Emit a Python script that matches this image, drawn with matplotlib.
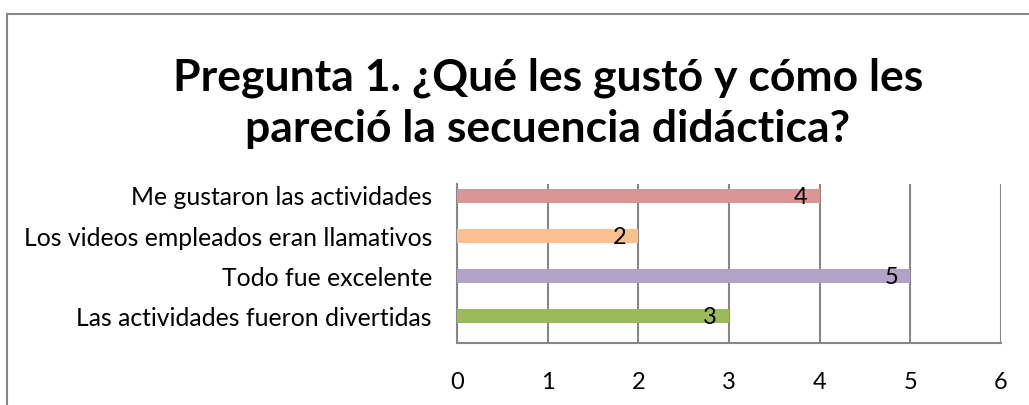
import matplotlib
matplotlib.use("Agg")
import matplotlib.pyplot as plt
from matplotlib.patches import Rectangle

# Survey responses
categories = [
    "Me gustaron las actividades",
    "Los videos empleados eran llamativos",
    "Todo fue excelente",
    "Las actividades fueron divertidas",
]
counts = [4, 2, 5, 3]
bar_colors = ["#D99694", "#FAC090", "#B3A2C7", "#9BBB59"]
x_ticks = [0, 1, 2, 3, 4, 5, 6]
title = "Pregunta 1. ¿Qué les gustó y cómo les\npareció la secuencia didáctica?"

plt.rcParams["font.family"] = ["Lato", "DejaVu Sans"]

W, H, DPI = 1029, 405, 100
fig = plt.figure(figsize=(W / DPI, H / DPI), dpi=DPI)
fig.patch.set_facecolor("white")

# Chart border (right and bottom edges run off the canvas)
fig.patches.append(Rectangle((7 / W, -0.1), 1.2, (H - 14) / H + 0.1,
                             transform=fig.transFigure, fill=False,
                             edgecolor="#878787", linewidth=1.5))

ax = fig.add_axes([457 / W, 62 / H, 544 / W, 159 / H])
ypos = list(range(len(categories)))[::-1]
ax.barh(ypos, counts, height=0.345, color=bar_colors, zorder=3)

for y, v in zip(ypos, counts):
    ax.text(v - 0.21, y - 0.05, str(v), ha="center", va="center",
            fontsize=17, color="black", zorder=4)

ax.set_xlim(0, 6)
ax.set_ylim(-0.675, 3.3)
ax.set_xticks(x_ticks)
ax.set_xticklabels([str(t) for t in x_ticks])
ax.set_yticks(ypos)
ax.set_yticklabels(categories)
ax.tick_params(axis="both", length=0, colors="black")
ax.tick_params(axis="x", pad=21, labelsize=17)
ax.tick_params(axis="y", pad=18, labelsize=17.8)
ax.grid(axis="x", color="#878787", linewidth=1.5, zorder=1)
for side in ["top", "right"]:
    ax.spines[side].set_visible(False)
for side in ["left", "bottom"]:
    ax.spines[side].set_color("#878787")
    ax.spines[side].set_linewidth(1.5)

fig.text(548 / W, 1 - 103 / H, title, ha="center", va="center",
         fontsize=32, fontweight="bold", linespacing=1.34)

fig.savefig("out.png", dpi=DPI)
